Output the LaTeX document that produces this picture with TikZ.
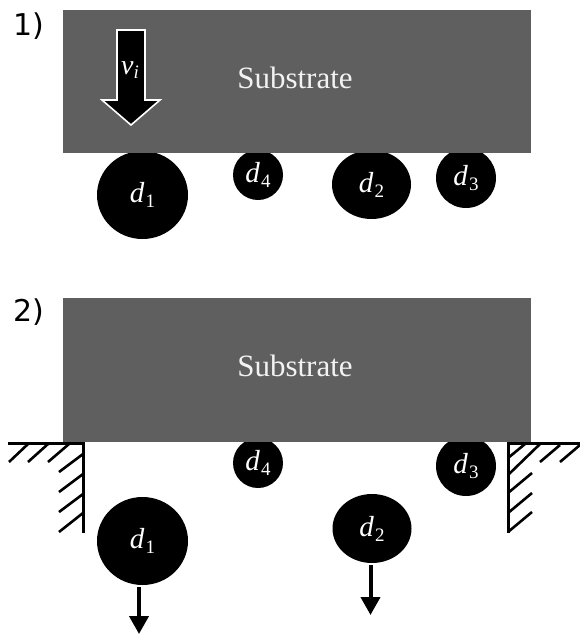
\documentclass[tikz,border=0pt]{standalone}
\usepackage{fontspec}
\setmainfont{Liberation Serif}
\newfontfamily\stepfont{DejaVu Sans}
\usetikzlibrary{shapes.geometric, arrows.meta}
\definecolor{substrategray}{RGB}{95,95,95}
\definecolor{substratetext}{RGB}{242,242,242}
% droplet diameter label: italic d with an upright index
\newcommand\dlab[1]{\textit{d}\kern1pt\raisebox{-5pt}{\fontsize{19}{20}\selectfont #1}}

\begin{document}
\begin{tikzpicture}[x=1pt, y=-1pt,
  drop/.style={ellipse, fill=black, inner sep=0pt, text=white,
    font=\fontsize{29}{32}\selectfont},
  slab/.style={fill=substrategray},
  slabtext/.style={text=substratetext, inner sep=0pt, anchor=base,
    font=\fontsize{31}{34}\selectfont},
  steplabel/.style={inner sep=0pt, font=\stepfont\fontsize{30}{34}\selectfont},
  wall/.style={line width=3pt},
  hatch/.style={line width=2.6pt},
  fall/.style={line width=4pt, -{Triangle[width=19pt, length=18pt]}}
]
\useasboundingbox (0,0) rectangle (580,635);

% ---------- step 1: droplets pressed against the substrate ----------
\node[drop, minimum width=91, minimum height=88] (d1a) at (142.5,195) {\dlab{1}};
\node[drop, minimum width=50, minimum height=50] (d4a) at (258,175) {\dlab{4}};
\node[drop, minimum width=79, minimum height=69] (d2a) at (371.5,184.5) {\dlab{2}};
\node[drop, minimum width=60, minimum height=60] (d3a) at (466,178) {\dlab{3}};

\fill[slab] (63,10) rectangle (531,153);
\node[slabtext] (suba) at (295,88) {Substrate};

% impact velocity block arrow
\filldraw[fill=black, draw=white, line width=1.6pt, line join=miter]
  (117,30) -- (145,30) -- (145,100) -- (160,100) -- (131,125)
  -- (102,100) -- (117,100) -- cycle;
\node[inner sep=0pt, text=white, font=\fontsize{28}{30}\selectfont] (vi) at (130,70)
  {\textit{v}\raisebox{-4pt}{\fontsize{19}{20}\selectfont\textit{i}}};

\node[steplabel] (s1) at (29,26) {1)};

% ---------- step 2: substrate stopped, large droplets detach ----------
\node[drop, minimum width=91, minimum height=88] (d1b) at (142.5,541) {\dlab{1}};
\node[drop, minimum width=50, minimum height=50] (d4b) at (258,463) {\dlab{4}};
\node[drop, minimum width=79, minimum height=69] (d2b) at (372,528.5) {\dlab{2}};
\node[drop, minimum width=60, minimum height=60] (d3b) at (466,466) {\dlab{3}};

\fill[slab] (63,298) rectangle (531,442);
\node[slabtext] (subb) at (295,376) {Substrate};

\node[steplabel] (s2) at (29,312) {2)};

% detachment arrows
\coordinate (t1) at (139,634);
\coordinate (t2) at (370.5,615);
\draw[fall] ([yshift=-2pt]d1b.south -| t1) -- (t1);
\draw[fall] ([yshift=-2pt]d2b.south -| t2) -- (t2);

% left stop (fixed wall)
\draw[wall] (8,443.5) -- (83,443.5) -- (83,533);
\draw[hatch] (9,462) -- (28,444)  (28,462) -- (48,444)  (48,462) -- (69,444);
\draw[hatch] (59,472) -- (83,454)  (59,492) -- (83,474)
             (59,512) -- (83,494)  (59,532) -- (83,513);

% right stop (fixed wall)
\draw[wall] (580,443.5) -- (508,443.5) -- (508,533);
\draw[hatch] (508,458) -- (525,444)  (508,475) -- (540,444)
             (540,462) -- (560,445)  (560,462) -- (580,445);
\draw[hatch] (508,493) -- (532,473)  (508,513) -- (532,493)
             (508,532) -- (532,512);
\end{tikzpicture}
\end{document}
